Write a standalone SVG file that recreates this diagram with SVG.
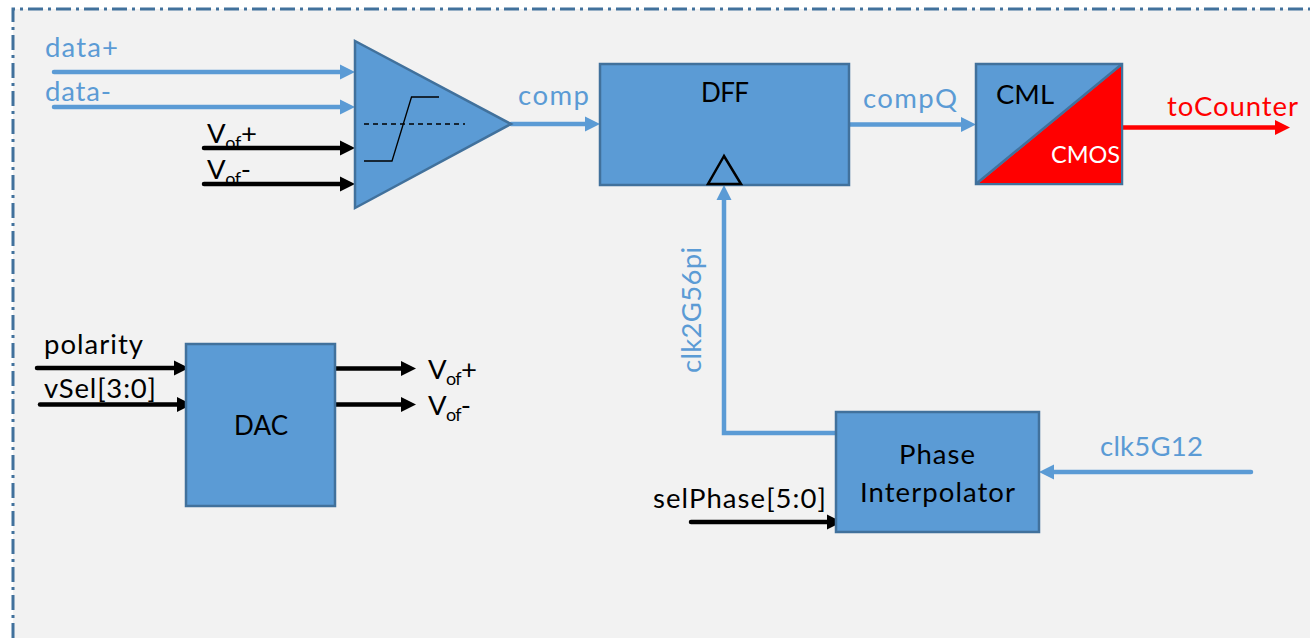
<svg xmlns="http://www.w3.org/2000/svg" width="1310" height="638" viewBox="0 0 1310 638">
<style>
text{font-family:"Lato","Open Sans",sans-serif;font-size:27.5px;fill:#000}
.b{fill:#5b9bd5}
.r{fill:#f00}
.w{fill:#fff}
.s{font-size:18px}
.node{fill:#5b9bd5;stroke:#41719c;stroke-width:2.5}
.bl{stroke:#5b9bd5;stroke-width:4.500;fill:none;stroke-linecap:round;marker-end:url(#ab)}
.bk{stroke:#000;stroke-width:4.500;fill:none;stroke-linecap:round;marker-end:url(#ak)}
.rd{stroke:#f00;stroke-width:4.500;fill:none;marker-end:url(#ar)}
</style>
<defs>
<marker id="ab" markerUnits="userSpaceOnUse" markerWidth="16" markerHeight="16" refX="7" refY="8" orient="auto"><path d="M0 0.5L15 8L0 15.5z" fill="#5b9bd5"/></marker>
<marker id="ak" markerUnits="userSpaceOnUse" markerWidth="16" markerHeight="16" refX="7" refY="8" orient="auto"><path d="M0 0.5L15 8L0 15.5z" fill="#000"/></marker>
<marker id="ar" markerUnits="userSpaceOnUse" markerWidth="16" markerHeight="16" refX="7" refY="8" orient="auto"><path d="M0 0.5L15 8L0 15.5z" fill="#f00"/></marker>
</defs>
<rect width="1310" height="638" fill="#fff"/>
<rect x="13" y="9" width="1297" height="629" fill="#f2f2f2"/>
<path d="M13 638V9H1310" fill="none" stroke="#41719c" stroke-width="3" stroke-dasharray="15 5 3 5"/>

<g id="connectors">
<path class="bl" d="M54 72H347"/>
<path class="bl" d="M54 107H347"/>
<path class="bk" d="M204 148H347"/>
<path class="bk" d="M204 184H347"/>
<path class="bl" d="M511 124H592"/>
<path class="bl" d="M849 124.500H968"/>
<path class="rd" d="M1122 127.500H1282"/>
<path class="bl" d="M836 433H724V193"/>
<path class="bl" d="M1251 472H1047"/>
<path class="bk" d="M691 522H834"/>
<path class="bk" d="M37 368H181"/>
<path class="bk" d="M40 404.500H184"/>
<path class="bk" d="M335 368.500H408"/>
<path class="bk" d="M335 404.500H408"/>
</g>

<g id="comparator">
<polygon class="node" points="355,41 355,208 511,124"/>
<path d="M364 161H392L411.500 97H439" fill="none" stroke="#000" stroke-width="1.300"/>
<path d="M364 124H465" fill="none" stroke="#000" stroke-width="1.300" stroke-dasharray="5 4"/>
</g>
<g id="dff">
<rect class="node" x="600" y="64" width="249" height="121"/>
<polygon points="724,156 708,184 741,184" fill="none" stroke="#000" stroke-width="2.500"/>
<text x="701" y="102" textLength="48" style="font-size:26px">DFF</text>
</g>
<g id="level-shifter">
<rect class="node" x="976" y="64" width="146" height="120"/>
<polygon points="1121,66 1121,183 979,183" fill="#f00"/>
<path d="M976 184L1122 64" stroke="#41719c" stroke-width="2.500" fill="none"/>
<text x="996" y="104" textLength="58">CML</text>
<text x="1051" y="163" class="w" style="font-size:23.5px" textLength="69">CMOS</text>
</g>
<g id="dac">
<rect class="node" x="186" y="344" width="149" height="162"/>
<text x="234" y="435" textLength="54" style="font-size:26px">DAC</text>
</g>
<g id="phase-interpolator">
<rect class="node" x="836" y="412" width="203" height="120"/>
<text x="899" y="464" textLength="76">Phase</text>
<text x="860" y="502" textLength="155">Interpolator</text>
</g>

<g id="labels">
<text x="45" y="57" class="b" textLength="73">data+</text>
<text x="45" y="101" class="b" textLength="66">data-</text>
<text x="207" y="143" textLength="50">V<tspan class="s" dy="6">of</tspan><tspan dy="-6">+</tspan></text>
<text x="207" y="179" textLength="44">V<tspan class="s" dy="6">of</tspan><tspan dy="-6">-</tspan></text>
<text x="518" y="105" class="b" textLength="71">comp</text>
<text x="863" y="108" class="b" textLength="94">compQ</text>
<text x="1167" y="116" class="r" textLength="131">toCounter</text>
<text x="44" y="354" textLength="99">polarity</text>
<text x="44" y="398" textLength="112">vSel[3:0]</text>
<text x="428" y="379" textLength="49">V<tspan class="s" dy="6">of</tspan><tspan dy="-6">+</tspan></text>
<text x="428" y="415" textLength="43">V<tspan class="s" dy="6">of</tspan><tspan dy="-6">-</tspan></text>
<text x="653" y="508" textLength="173">selPhase[5:0]</text>
<text x="1100" y="456" class="b" textLength="103">clk5G12</text>
<text transform="translate(701 373) rotate(-90)" class="b" textLength="126">clk2G56pi</text>
</g>
</svg>
